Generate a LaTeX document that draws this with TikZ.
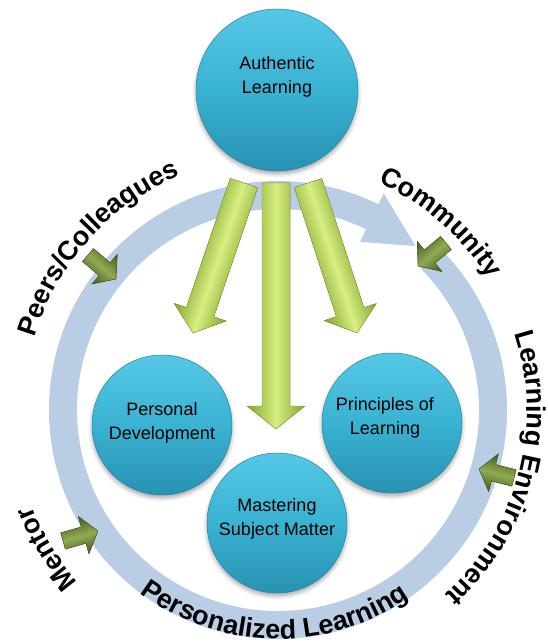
\documentclass[tikz,border=0pt]{standalone}
\usepackage{fontspec}
\setmainfont{Liberation Sans}
\usetikzlibrary{calc,decorations.text,shadows.blur}

\definecolor{ringblue}{RGB}{185,205,229}
\definecolor{balltop}{RGB}{86,200,230}
\definecolor{ballmid}{RGB}{58,178,210}
\definecolor{ballbot}{RGB}{40,146,178}
\definecolor{balledge}{RGB}{40,130,160}
\definecolor{leaflight}{RGB}{216,238,130}
\definecolor{leafdark}{RGB}{128,164,44}
\definecolor{twiglight}{RGB}{145,170,82}
\definecolor{twigdark}{RGB}{68,88,30}

\newcommand{\ringfont}{\fontsize{27}{30}\selectfont\bfseries}

% block arrow from #2 to #3 (shaft half width #4, head half width #5, head length #6)
\newcommand{\blockarrow}[6][]{%
  \path let \p1=(#2), \p2=(#3) in
    \pgfextra{\pgfmathsetmacro{\barang}{atan2((\y2)-(\y1),(\x2)-(\x1))}%
      \pgfmathsetmacro{\barlen}{veclen((\x2)-(\x1),(\y2)-(\y1))}%
      \global\let\barang\barang \global\let\barlen\barlen};
  \fill[#1, transform canvas={shift={(#2)}, rotate=\barang}]
    (0,-#4) -- ({\barlen-#6},-#4) -- ({\barlen-#6},-#5) -- (\barlen,0)
    -- ({\barlen-#6},#5) -- ({\barlen-#6},#4) -- (0,#4) -- cycle;
}

\begin{document}
\begin{tikzpicture}[x=1pt, y=1pt,
    ball/.style={circle, inner sep=0pt, draw=balledge, line width=0.5pt,
      top color=balltop, bottom color=ballbot, middle color=ballmid,
      blur shadow={shadow xshift=0pt, shadow yshift=-3pt, shadow blur radius=4pt, shadow opacity=35}},
    balltext/.style={align=center, font=\fontsize{18}{24.5}\selectfont},
    leaf/.style={draw=leafdark, line width=0.4pt, top color=leafdark, bottom color=leafdark, middle color=leaflight},
    twig/.style={draw=twigdark, line width=0.4pt, top color=twigdark, bottom color=twigdark, middle color=twiglight},
    ringtext/.style={decorate, decoration={text along path, text align=center, text={|\ringfont|#1}}}]
  \useasboundingbox (0,0) rectangle (547,-644);
  \coordinate (hub) at (278,-410);

  % circular arrow, running clockwise
  \fill[ringblue] ($(hub)+(45:229pt)$) arc[start angle=45, end angle=-296, radius=229pt]
    -- ($(hub)+(64:241pt)$) -- ($(hub)+(50:214pt)$) -- ($(hub)+(64:187pt)$)
    -- ($(hub)+(64:201pt)$) arc[start angle=64, end angle=405, radius=201pt] -- cycle;

  % words around the ring
  \path[ringtext={Peers/Colleagues}] ($(hub)+(178:254pt)$) arc[start angle=178, end angle=98, radius=254pt];
  \path[ringtext={Community}] ($(hub)+(89:248pt)$) arc[start angle=89, end angle=9, radius=248pt];
  \path[ringtext={Learning Environment}] ($(hub)+(40:249pt)$) arc[start angle=40, end angle=-70, radius=249pt];
  \path[ringtext={Mentor}] ($(hub)+(251:264pt)$) arc[start angle=251, end angle=171, radius=264pt];
  \path[ringtext={Personalized Learning}] ($(hub)+(-151:229pt)$) arc[start angle=-151, end angle=-31, radius=229pt];

  % the four balls
  \node[ball, minimum size=162pt] (auth) at (277,-90) {};
  \node[ball, minimum size=140pt] (pd) at (162,-425) {};
  \node[ball, minimum size=140pt] (msm) at (277,-523) {};
  \node[ball, minimum size=140pt] (pol) at (392,-423) {};
  \node[balltext] (auth-text) at ($(auth)+(0,13)$) {Authentic\\Learning};
  \node[balltext] (pd-text) at ($(pd)+(0,2)$) {Personal\\Development};
  \node[balltext] (msm-text) at ($(msm)+(0,4)$) {Mastering\\Subject Matter};
  \node[balltext] (pol-text) at ($(pol)+(-7,5)$) {Principles of\\Learning};

  % big arrows out of the top ball
  \coordinate (pd-tail) at (244,-183);
  \coordinate (pd-tip) at (193,-333);
  \coordinate (msm-tail) at (276,-183);
  \coordinate (msm-tip) at (276,-429);
  \coordinate (pol-tail) at (308,-183);
  \coordinate (pol-tip) at (357,-333);
  \blockarrow[leaf]{pd-tail}{pd-tip}{14.5}{27.5}{22}
  \blockarrow[leaf]{msm-tail}{msm-tip}{14}{29}{23}
  \blockarrow[leaf]{pol-tail}{pol-tip}{14.5}{27.5}{22}

  % small arrows onto the ring
  \coordinate (peers-tail) at (88,-255);
  \coordinate (peers-tip) at (116,-279);
  \coordinate (comm-tail) at (446,-243);
  \coordinate (comm-tip) at (418,-266);
  \coordinate (env-tail) at (514,-478);
  \coordinate (env-tip) at (479,-469);
  \coordinate (mentor-tail) at (63,-541);
  \coordinate (mentor-tip) at (98,-531);
  \blockarrow[twig]{peers-tail}{peers-tip}{8.5}{19.5}{15}
  \blockarrow[twig]{comm-tail}{comm-tip}{8.5}{19.5}{15}
  \blockarrow[twig]{env-tail}{env-tip}{8.5}{19.5}{15}
  \blockarrow[twig]{mentor-tail}{mentor-tip}{8.5}{19.5}{15}
\end{tikzpicture}
\end{document}
